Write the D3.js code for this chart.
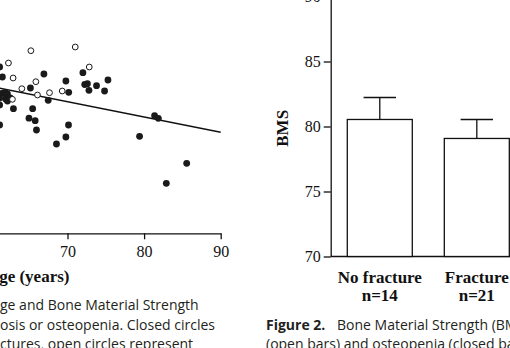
<!DOCTYPE html>
<html><head><meta charset="utf-8">
<script src="https://cdn.jsdelivr.net/npm/d3@7"></script>
<style>
html,body{margin:0;padding:0;background:#fff;overflow:hidden}
svg{display:block}
.serif{font-family:"Liberation Serif","Times New Roman",serif;fill:#111}
.cap{font-family:"Open Sans",sans-serif;font-size:14px;fill:#231f20}
</style>
</head><body>
<script>
// ---- Scatter data (Figure 1, cropped) ----
const openAge  = [65.22, 71.01, 62.29, 62.90, 65.87, 72.84, 64.04, 66.08, 67.65, 69.31, 62.81];
const openBms  = [96.46, 97.2, 94.0, 91.0, 90.26, 93.2, 88.86, 87.6, 88.06, 88.4, 86.74];
const closedAge = [61.14, 61.50, 66.92, 72.01, 69.79, 75.28, 72.25, 72.60, 73.79, 72.80, 74.84, 70.16, 65.16,
  61.42, 61.86, 62.16, 61.92, 62.16, 62.51, 61.14, 61.14, 62.94, 65.45, 67.48, 64.97, 65.78, 65.95, 70.13,
  69.79, 68.56, 61.14, 79.41, 81.37, 81.86, 85.56, 82.90];
const closedBms = [93.2, 91.2, 91.8, 92.06, 90.4, 90.6, 89.7, 89.86, 89.46, 88.54, 88.4, 88.14, 89.0,
  87.94, 88.1, 87.8, 86.8, 86.4, 87.0, 87.0, 85.6, 84.86, 84.86, 86.54, 82.96, 82.46, 80.6, 81.6,
  79.2, 77.8, 81.6, 79.34, 83.46, 82.94, 73.94, 69.94];
const fitAge = [58, 90];
const fitBms = [89.92, 80.15];
const ageTicks = [70, 80, 90];

// ---- Bar data (Figure 2) ----
const barCats = ["No fracture", "Fracture"];
const barN = ["n=14", "n=21"];
const barMean = [80.54, 79.08];
const barErr = [1.69, 1.46];
const bmsTicks = [70, 75, 80, 85, 90];

const W = 510, H = 348;
const svg = d3.select("body").append("svg").attr("width", W).attr("height", H);

// ---------- Scatter ----------
const sx = d3.scaleLinear().domain([50, 90]).range([-85.7, 220.7]);
const sy = d3.scaleLinear().domain([60, 100]).range([233, 33]);

const sc = svg.append("g");
const xAx = sc.append("g").attr("transform", "translate(0,233.3)")
  .call(d3.axisBottom(sx).tickValues(ageTicks).tickSize(6).tickSizeOuter(0).tickPadding(8));
xAx.select(".domain").attr("stroke", "#111").attr("stroke-width", 1.3);
xAx.selectAll(".tick line").attr("stroke", "#111").attr("stroke-width", 1.3);
xAx.selectAll(".tick text").attr("class", "serif").attr("font-size", 16).attr("dy", null).attr("y", 24);

sc.append("text").attr("class", "serif").attr("font-size", 17).attr("font-weight", "bold")
  .attr("text-anchor", "end").attr("x", 69.5).attr("y", 281.5).text("Age (years)");

sc.append("line")
  .attr("x1", sx(fitAge[0])).attr("y1", sy(fitBms[0]))
  .attr("x2", sx(fitAge[1])).attr("y2", sy(fitBms[1]))
  .attr("stroke", "#111").attr("stroke-width", 1.3);

const closedPts = closedAge.map((a, i) => ({a, b: closedBms[i]}));
const openPts = openAge.map((a, i) => ({a, b: openBms[i]}));
sc.selectAll("circle.c").data(closedPts).join("circle").attr("class", "c")
  .attr("cx", d => sx(d.a)).attr("cy", d => sy(d.b)).attr("r", 3.4).attr("fill", "#1a1a1a");
sc.selectAll("circle.o").data(openPts).join("circle").attr("class", "o")
  .attr("cx", d => sx(d.a)).attr("cy", d => sy(d.b)).attr("r", 2.9)
  .attr("fill", "#fff").attr("stroke", "#1a1a1a").attr("stroke-width", 1);

// ---------- Bar chart ----------
const bx = d3.scaleBand().domain(barCats).range([330.7, 525.9]).paddingInner(0.33).paddingOuter(0.171);
const by = d3.scaleLinear().domain([70, 90]).range([256.5, -3.5]);

const bc = svg.append("g");
const yAx = bc.append("g").attr("transform", "translate(330.7,0)")
  .call(d3.axisLeft(by).tickValues(bmsTicks).tickSize(7).tickSizeOuter(0).tickPadding(3));
yAx.select(".domain").attr("stroke", "#111").attr("stroke-width", 1.3);
yAx.selectAll(".tick line").attr("stroke", "#111").attr("stroke-width", 1.3);
yAx.selectAll(".tick text").attr("class", "serif").attr("font-size", 16).attr("dy", "0.32em");

const xAx2 = bc.append("g").attr("transform", "translate(0,256.5)")
  .call(d3.axisBottom(bx).tickSize(0).tickSizeOuter(0).tickFormat(""));
xAx2.select(".domain").attr("stroke", "#111").attr("stroke-width", 1.3)
  .attr("d", `M330.7,0H${W + 2}`);

barCats.forEach((c, i) => {
  const x0 = bx(c), w = bx.bandwidth(), cx = x0 + w / 2;
  bc.append("line").attr("x1", cx).attr("x2", cx)
    .attr("y1", by(barMean[i])).attr("y2", by(barMean[i] + barErr[i]))
    .attr("stroke", "#111").attr("stroke-width", 1.3);
  bc.append("line").attr("x1", cx - 16.2).attr("x2", cx + 16.2)
    .attr("y1", by(barMean[i] + barErr[i])).attr("y2", by(barMean[i] + barErr[i]))
    .attr("stroke", "#111").attr("stroke-width", 1.3);
  bc.append("rect").attr("x", x0).attr("width", w)
    .attr("y", by(barMean[i])).attr("height", by(70) - by(barMean[i]))
    .attr("fill", "#fff").attr("stroke", "#111").attr("stroke-width", 1.3);
  bc.append("text").attr("class", "serif").attr("font-size", 17).attr("font-weight", "bold")
    .attr("text-anchor", "middle").attr("x", cx).attr("y", 283.3).text(c);
  bc.append("text").attr("class", "serif").attr("font-size", 17).attr("font-weight", "bold")
    .attr("text-anchor", "middle").attr("x", cx).attr("y", 301).text(barN[i]);
});

bc.append("text").attr("class", "serif").attr("font-size", 17).attr("font-weight", "bold")
  .attr("text-anchor", "middle").attr("transform", "translate(288,128.3) rotate(-90)").text("BMS");

// ---------- Captions ----------
const capL = ["ge and Bone Material Strength", "osis or osteopenia. Closed circles", "ctures, open circles represent"];
const capY = [310, 329.7, 349.4];
capL.forEach((t, i) => svg.append("text").attr("class", "cap").attr("x", 0).attr("y", capY[i]).text(t));

const f2 = svg.append("text").attr("class", "cap").attr("x", 266).attr("y", 329.5);
f2.append("tspan").attr("font-weight", "bold").text("Figure 2.");
f2.append("tspan").attr("x", 337).text("Bone Material Strength (BMS)");
svg.append("text").attr("class", "cap").attr("x", 266).attr("y", 349.2).text("(open bars) and osteopenia (closed bars)");
</script>
</body></html>
